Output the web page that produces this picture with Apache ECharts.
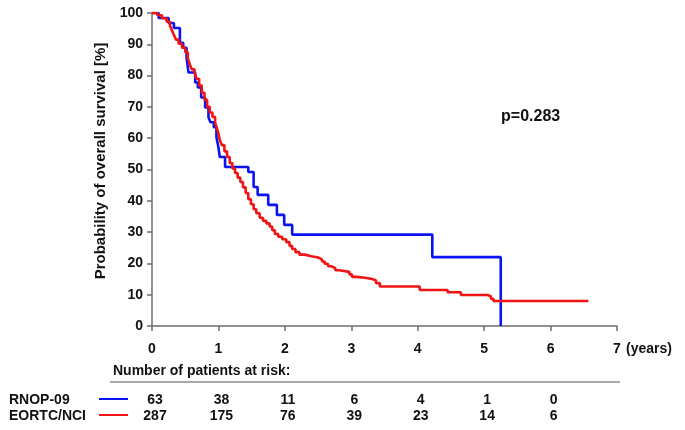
<!DOCTYPE html>
<html>
<head>
<meta charset="utf-8">
<script src="https://cdn.jsdelivr.net/npm/echarts@6/dist/echarts.min.js"></script>
<style>html,body{margin:0;padding:0;background:#fff;}#c{width:685px;height:430px;}</style>
</head>
<body>
<div id="c"></div>
<script>
// Kaplan-Meier curves (time in years, survival in %)
var rnopTime = [0, 0.1, 0.25, 0.33, 0.42, 0.47, 0.52, 0.55, 0.65, 0.69, 0.74, 0.8, 0.85, 0.88, 0.93, 0.97, 1.0, 1.02, 1.1, 1.45, 1.53, 1.59, 1.75, 1.88, 1.99, 2.11, 4.22, 5.25];
var rnopSurv = [100, 98.4, 96.8, 95.2, 90.5, 88.9, 85.7, 81.0, 77.8, 76.2, 73.0, 69.8, 66.7, 65.1, 63.5, 60.3, 57.1, 54.0, 50.8, 49.2, 44.4, 41.9, 38.7, 35.5, 32.3, 29.2, 22.0, 0];
var eortcTime = [0, 0.08, 0.15, 0.22, 0.27, 0.30, 0.33, 0.36, 0.40, 0.45, 0.50, 0.54, 0.57, 0.60, 0.64, 0.67, 0.71, 0.75, 0.79, 0.83, 0.87, 0.91, 0.95, 0.98, 1.00, 1.02, 1.05, 1.09, 1.13, 1.17, 1.21, 1.25, 1.29, 1.33, 1.37, 1.41, 1.45, 1.49, 1.53, 1.57, 1.62, 1.67, 1.72, 1.77, 1.81, 1.85, 1.90, 1.96, 2.02, 2.07, 2.11, 2.16, 2.22, 2.30, 2.40, 2.50, 2.56, 2.60, 2.65, 2.70, 2.76, 2.82, 2.97, 3.01, 3.08, 3.20, 3.30, 3.37, 3.43, 4.03, 4.45, 4.65, 5.05, 5.10, 5.14, 6.57];
var eortcSurv = [100, 99.3, 98.3, 97.2, 96.0, 94.5, 93.0, 91.5, 90.2, 88.9, 87.5, 85.5, 83.5, 82.0, 81.0, 79.0, 76.8, 74.5, 72.3, 70.0, 68.2, 66.8, 64.9, 63.0, 61.5, 59.5, 57.8, 55.8, 54.0, 52.1, 50.3, 48.9, 47.4, 46.0, 44.3, 42.5, 40.5, 38.9, 37.3, 36.0, 34.6, 33.6, 32.8, 31.8, 30.6, 29.4, 28.5, 27.7, 26.8, 25.6, 24.6, 23.6, 22.8, 22.3, 21.9, 21.3, 20.6, 19.9, 19.1, 18.5, 17.8, 17.3, 16.5, 15.7, 15.4, 15.1, 14.6, 13.7, 12.6, 11.5, 10.8, 9.9, 9.5, 8.7, 8.0, 8.0];

// Number at risk table
var riskYears = [0, 1, 2, 3, 4, 5, 6];
var rnopRisk = [63, 38, 11, 6, 4, 1, 0];
var eortcRisk = [287, 175, 76, 39, 23, 14, 6];
var groupNames = ['RNOP-09', 'EORTC/NCI'];
var pValueText = 'p=0.283';
var yTitle = 'Probability of overall survival [%]';

function pairs(t, s) { return t.map(function (v, i) { return [v, s[i]]; }); }

var FONT = 'Liberation Sans, Arial, sans-serif';
var BLUE = '#0a14f0';
var RED = '#f01414';
var AX = '#6e6e6e';
var TXT = '#111';

var chart = echarts.init(document.getElementById('c'), null, { renderer: 'canvas' });
var option = {
  animation: false,
  backgroundColor: '#fff',
  grid: { left: 152, right: 68, top: 13, bottom: 104, containLabel: false },
  xAxis: {
    type: 'value', min: 0, max: 7, interval: 1,
    axisLine: { lineStyle: { color: AX, width: 1.5 } },
    axisTick: { length: 5, lineStyle: { color: AX, width: 1.5 } },
    axisLabel: { color: TXT, fontFamily: FONT, fontWeight: 'bold', fontSize: 14, margin: 16 },
    splitLine: { show: false }
  },
  yAxis: {
    type: 'value', min: 0, max: 100, interval: 10,
    axisLine: { show: true, lineStyle: { color: AX, width: 1.5 } },
    axisTick: { show: true, length: 5, lineStyle: { color: AX, width: 1.5 } },
    axisLabel: { color: TXT, fontFamily: FONT, fontWeight: 'bold', fontSize: 14, margin: 9 },
    splitLine: { show: false }
  },
  series: [
    { type: 'line', step: 'end', showSymbol: false, symbol: 'none', data: pairs(rnopTime, rnopSurv),
      lineStyle: { color: BLUE, width: 2.6 }, z: 3 },
    { type: 'line', step: 'end', showSymbol: false, symbol: 'none', data: pairs(eortcTime, eortcSurv),
      lineStyle: { color: RED, width: 2.6 }, z: 4 }
  ]
};
chart.setOption(option);

// Annotations and risk table placed via axis scales
var g = [];
var pPos = chart.convertToPixel({ xAxisIndex: 0, yAxisIndex: 0 }, [5.7, 67]);
g.push({ type: 'text', x: pPos[0], y: pPos[1], style: { text: pValueText, fill: TXT, font: 'bold 16px ' + FONT, textAlign: 'center', textVerticalAlign: 'middle' } });
g.push({ type: 'text', x: 101, y: 161, rotation: Math.PI / 2, style: { text: yTitle, fill: TXT, font: 'bold 15px ' + FONT, textAlign: 'center', textVerticalAlign: 'middle' } });
var xEnd = chart.convertToPixel({ xAxisIndex: 0 }, 7);
g.push({ type: 'text', x: xEnd + 9, y: 349, style: { text: '(years)', fill: TXT, font: 'bold 14px ' + FONT, textAlign: 'left', textVerticalAlign: 'middle' } });
g.push({ type: 'text', x: 113, y: 371, style: { text: 'Number of patients at risk:', fill: TXT, font: 'bold 14px ' + FONT, textAlign: 'left', textVerticalAlign: 'middle' } });
g.push({ type: 'line', shape: { x1: 110, y1: 382, x2: xEnd + 3, y2: 382 }, style: { stroke: '#555', lineWidth: 1 } });
var rowY = [400, 416];
var rowColors = [BLUE, RED];
var rowVals = [rnopRisk, eortcRisk];
for (var r = 0; r < 2; r++) {
  g.push({ type: 'text', x: 9, y: rowY[r], style: { text: groupNames[r], fill: TXT, font: 'bold 14px ' + FONT, textAlign: 'left', textVerticalAlign: 'middle' } });
  g.push({ type: 'line', shape: { x1: 99, y1: rowY[r] - 1, x2: 128, y2: rowY[r] - 1 }, style: { stroke: rowColors[r], lineWidth: 2 } });
  for (var i = 0; i < riskYears.length; i++) {
    var px = chart.convertToPixel({ xAxisIndex: 0 }, riskYears[i]);
    g.push({ type: 'text', x: px + 3, y: rowY[r], style: { text: String(rowVals[r][i]), fill: TXT, font: 'bold 14px ' + FONT, textAlign: 'center', textVerticalAlign: 'middle' } });
  }
}
chart.setOption({ graphic: g });
</script>
</body>
</html>
